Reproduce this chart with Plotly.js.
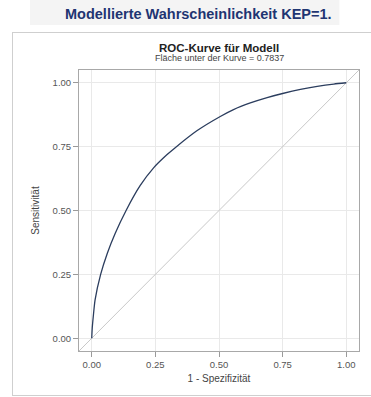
<!DOCTYPE html>
<html>
<head>
<meta charset="utf-8">
<script src="https://cdn.plot.ly/plotly-3.0.1.min.js"></script>
<style>
html,body{margin:0;padding:0;background:#fff;overflow:hidden;width:371px;height:397px;}
#frame{position:absolute;left:12px;top:32px;width:420px;height:362px;border:1px solid #cfcfcf;border-right:none;}
#chart{position:absolute;left:0;top:0;width:371px;height:397px;}
</style>
</head>
<body>
<div id="frame"></div>
<div id="chart"></div>
<script>
// ROC curve values
var fpr = [0, 0.002, 0.006, 0.013, 0.035, 0.061, 0.092, 0.135, 0.190, 0.243, 0.295, 0.328, 0.413, 0.505, 0.557, 0.623, 0.689, 0.75, 0.82, 0.886, 0.951, 1.0];
var tpr = [0, 0.04, 0.084, 0.149, 0.25, 0.332, 0.41, 0.50, 0.597, 0.667, 0.718, 0.746, 0.812, 0.868, 0.895, 0.921, 0.942, 0.958, 0.974, 0.986, 0.995, 1.0];
var diagX = [-0.05, 1.05];
var diagY = [-0.05, 1.05];
var tickVals = [0, 0.25, 0.5, 0.75, 1];
var tickText = ["0.00", "0.25", "0.50", "0.75", "1.00"];
var mainTitle = "Modellierte Wahrscheinlichkeit KEP=1.";
var plotTitle = "ROC-Kurve für Modell";
var plotSubtitle = "Fläche unter der Kurve = 0.7837";
var xTitle = "1 - Spezifizität";
var yTitle = "Sensitivität";

var font = "Liberation Sans, Arial, sans-serif";

var traces = [
  {x: diagX, y: diagY, mode: "lines", line: {color: "#c8c8c8", width: 1}, hoverinfo: "skip", showlegend: false},
  {x: fpr, y: tpr, mode: "lines", line: {color: "#2b3d5e", width: 1.3, shape: "spline", smoothing: 0.6}, showlegend: false}
];

var axisCommon = {
  range: [-0.05, 1.05],
  tickvals: tickVals,
  ticktext: tickText,
  ticks: "outside",
  ticklen: 5,
  tickcolor: "#9a9a9a",
  tickfont: {family: font, size: 9.5, color: "#555"},
  showgrid: true,
  gridcolor: "#e9e9e9",
  zeroline: false,
  showline: true,
  linecolor: "#a8a8a8",
  linewidth: 1,
  mirror: true,
  fixedrange: true
};

var layout = {
  width: 371,
  height: 397,
  margin: {l: 79, r: 12, t: 70, b: 46},
  paper_bgcolor: "rgba(0,0,0,0)",
  plot_bgcolor: "#fff",
  font: {family: font, color: "#444"},
  xaxis: Object.assign({}, axisCommon, {
    title: {text: xTitle, font: {family: font, size: 10, color: "#444"}, standoff: 5}
  }),
  yaxis: Object.assign({}, axisCommon, {
    title: {text: yTitle, font: {family: font, size: 10, color: "#444"}, standoff: 11}
  }),
  shapes: [
    {type: "rect", xref: "paper", yref: "paper", x0: -0.175, x1: 0.93, y0: 1.16, y1: 1.26,
     fillcolor: "#f4f4f4", line: {width: 0}, layer: "below"}
  ],
  annotations: [
    {text: "<b>" + mainTitle + "</b>", xref: "paper", yref: "paper", x: 0.425, y: 1.199,
     xanchor: "center", yanchor: "middle", showarrow: false,
     font: {family: font, size: 14.5, color: "#1f3572"}},
    {text: "<b>" + plotTitle + "</b>", xref: "paper", yref: "paper", x: 0.5, y: 1.080,
     xanchor: "center", yanchor: "middle", showarrow: false,
     font: {family: font, size: 11.5, color: "#222"}},
    {text: plotSubtitle, xref: "paper", yref: "paper", x: 0.5, y: 1.041,
     xanchor: "center", yanchor: "middle", showarrow: false,
     font: {family: font, size: 9, color: "#444"}}
  ]
};

Plotly.newPlot("chart", traces, layout, {displayModeBar: false, staticPlot: true});
</script>
</body>
</html>
